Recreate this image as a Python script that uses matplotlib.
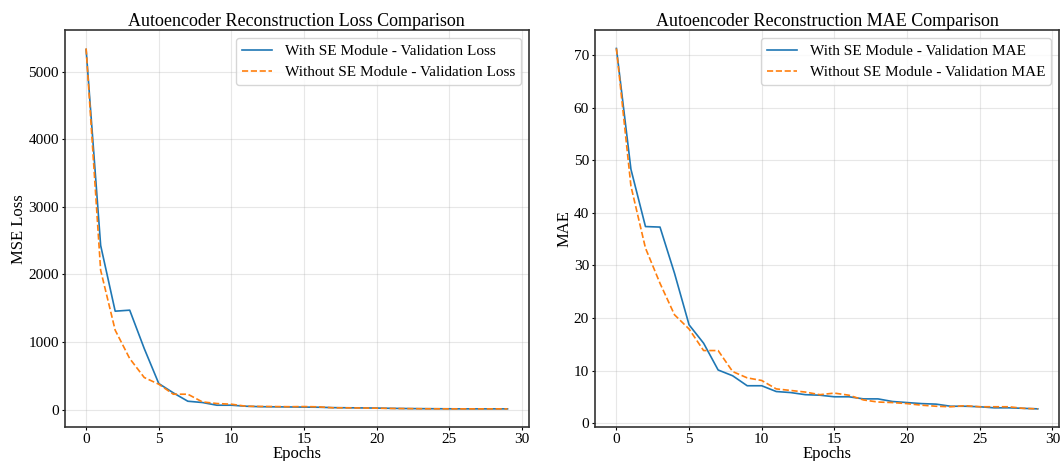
import numpy as np
import matplotlib
matplotlib.use('Agg')
import matplotlib.pyplot as plt

plt.rcParams['font.family'] = ['Liberation Serif', 'DejaVu Serif']

epochs = list(range(30))

# validation MSE loss
loss_se = [5330, 2430, 1456, 1471, 903, 385, 247, 123, 104, 64,
           64, 49, 42, 40, 38, 36, 34, 28, 26, 24,
           22, 18, 15, 13, 12, 11, 10, 10, 10, 10]
loss_nose = [5345, 2063, 1175, 755, 474, 375, 227, 227, 113, 89,
             79, 49, 46, 44, 42, 44, 40, 26, 25, 23,
             20, 16, 14, 12, 11, 10, 10, 10, 10, 10]

# validation MAE
mae_se = [71.3, 48.3, 37.4, 37.3, 28.5, 18.7, 15.2, 10.1, 9.0, 7.1,
          7.1, 6.0, 5.8, 5.4, 5.3, 5.0, 5.0, 4.6, 4.6, 4.1,
          3.9, 3.7, 3.6, 3.2, 3.2, 3.1, 2.9, 2.9, 2.8, 2.7]
mae_nose = [71.3, 45.1, 33.3, 26.6, 20.6, 17.9, 13.8, 13.8, 9.8, 8.6,
            8.1, 6.5, 6.2, 5.9, 5.4, 5.7, 5.3, 4.4, 4.0, 3.9,
            3.7, 3.4, 3.2, 3.1, 3.3, 3.1, 3.1, 3.1, 2.8, 2.7]

fig, axes = plt.subplots(1, 2, figsize=(10.61, 4.61), dpi=100)
fig.subplots_adjust(left=0.0613, right=0.998, top=0.934, bottom=0.074, wspace=0.144)

panels = [
    (axes[0], loss_se, loss_nose, 'Loss', 'MSE Loss', 'Autoencoder Reconstruction Loss Comparison'),
    (axes[1], mae_se, mae_nose, 'MAE', 'MAE', 'Autoencoder Reconstruction MAE Comparison'),
]

for ax, se, nose, name, ylab, title in panels:
    ax.plot(epochs, se, color='#1f77b4', lw=1.2, label=f'With SE Module - Validation {name}')
    ax.plot(epochs, nose, color='#ff7f0e', lw=1.2, ls='--', label=f'Without SE Module - Validation {name}')
    ax.set_title(title, fontsize=13, pad=3)
    ax.set_xlabel('Epochs', fontsize=12, labelpad=0)
    ax.set_ylabel(ylab, fontsize=12, labelpad=1)
    ax.tick_params(labelsize=11, length=2.5, pad=2)
    ax.grid(True, alpha=0.3)
    for s in ax.spines.values():
        s.set_color('#333333')
        s.set_linewidth(1.2)
    ax.legend(fontsize=11, loc='upper right')

fig.savefig('out.png', dpi=100)
